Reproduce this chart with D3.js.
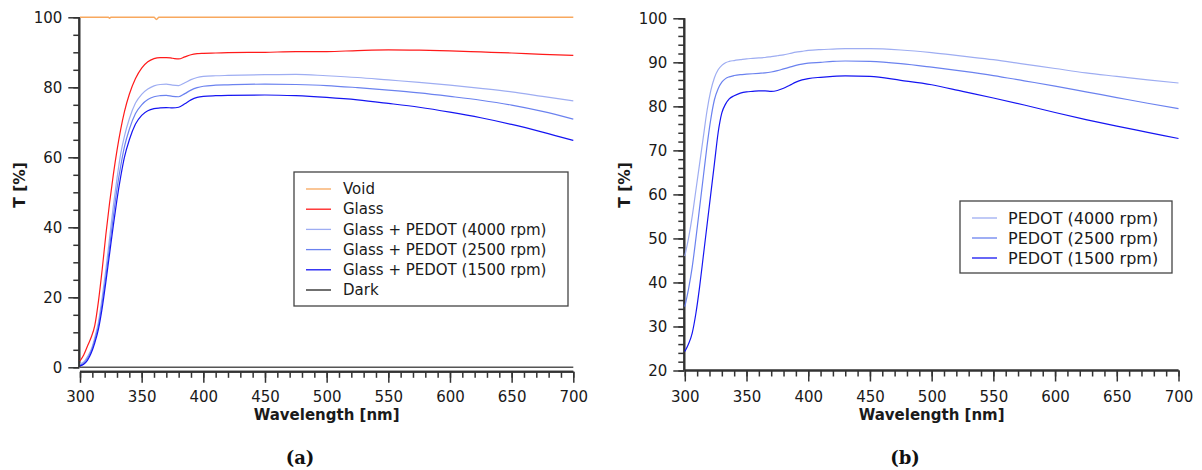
<!DOCTYPE html>
<html>
<head>
<meta charset="utf-8">
<script src="https://cdn.jsdelivr.net/npm/d3@7"></script>
<style>
  html, body { margin: 0; padding: 0; background: #fff; }
  svg { display: block; }
</style>
</head>
<body>
<svg id="chart" width="1202" height="470"></svg>
<script>
// ---------------- DATA ----------------
const wavelengthsA = [300,303,306,309,312,315,318,321,324,327,330,333,336,340,345,350,355,360,365,370,375,380,385,390,395,400,410,420,450,475,500,525,550,575,600,625,650,675,700];
const glassT   = [1.8,3.5,6,8.5,12,19,28,38,47,55,62,68,73,78,82.5,85.5,87.3,88.2,88.5,88.5,88.3,88.1,88.7,89.3,89.6,89.7,89.8,89.9,90.0,90.2,90.2,90.5,90.7,90.6,90.4,90.1,89.8,89.4,89.1];
const glassP4000T = [1.0,1.5,3,5,8.5,13,20,28,37,46,54,61,66,71,75.5,78,79.5,80.4,80.8,80.9,80.6,80.5,81.3,82.2,82.8,83.1,83.3,83.4,83.6,83.7,83.3,82.8,82.1,81.4,80.6,79.7,78.7,77.4,76.1];
const glassP2500T = [0.6,1.2,2.5,4.5,7.8,12,18.5,26,34.5,43,51,57.5,63,68,72.5,75,76.5,77.3,77.6,77.7,77.4,77.3,78.2,79.2,79.9,80.3,80.6,80.7,80.9,80.8,80.5,79.9,79.2,78.4,77.4,76.3,74.9,73.1,70.9];
const glassP1500T = [0.4,0.9,2,4,7,11,17,24.5,32.5,40.5,48,54.5,60,65,69.5,72,73.3,73.9,74.1,74.2,74.1,74.3,75.3,76.4,77.1,77.4,77.6,77.7,77.8,77.6,77.1,76.4,75.4,74.3,72.9,71.3,69.4,67.2,64.8];
const voidWl = [300,323,324,325,360,362,364,700];
const voidT  = [100,100,99.7,100,100,99.4,100,100];
const darkWl = [300,700];
const darkT  = [0,0];

const wavelengthsB = [300,303,306,309,312,315,318,321,324,327,330,333,336,340,345,350,355,360,365,370,375,380,385,390,395,400,410,420,430,450,475,500,525,550,575,600,625,650,675,700];
const pedot4000T = [46,50,55,61,67,73,79,83.5,86.5,88.3,89.3,89.9,90.2,90.4,90.6,90.8,90.9,91,91.1,91.3,91.5,91.7,92,92.3,92.5,92.7,92.9,93,93.1,93.1,92.8,92.2,91.4,90.6,89.6,88.6,87.6,86.8,86,85.3];
const pedot2500T = [34.5,38.5,43.5,50,57,64,71,77,81.5,84,85.5,86.3,86.7,87,87.2,87.3,87.4,87.5,87.6,87.8,88.1,88.5,88.9,89.3,89.6,89.8,90,90.2,90.3,90.2,89.7,88.9,88,87,85.8,84.6,83.3,82,80.7,79.5];
const pedot1500T = [24.3,26,28.5,33,39,46,53,60,67,74,78.5,80.5,81.7,82.4,83,83.3,83.4,83.5,83.5,83.4,83.6,84.1,84.8,85.5,86,86.3,86.6,86.8,86.9,86.8,85.9,84.9,83.4,81.9,80.3,78.6,77,75.5,74.1,72.7];

const legendA = ["Void","Glass","Glass + PEDOT (4000 rpm)","Glass + PEDOT (2500 rpm)","Glass + PEDOT (1500 rpm)","Dark"];
const legendB = ["PEDOT (4000 rpm)","PEDOT (2500 rpm)","PEDOT (1500 rpm)"];
const xTicks = [300,350,400,450,500,550,600,650,700];
const yTicksA = [0,20,40,60,80,100];
const yTicksB = [20,30,40,50,60,70,80,90,100];

// ---------------- STYLE ----------------
const C = { void:"#f8a85e", glass:"#ff1a1a", p4000:"#9eadf2", p2500:"#6b82ef", p1500:"#1515f2", dark:"#555555" };
const axisColor = "#333333";
const SANS = "'DejaVu Sans', 'Noto Sans', sans-serif";
const SERIF = "'DejaVu Serif', 'Liberation Serif', serif";

const svg = d3.select("#chart");

function styleText(sel, size, weight) {
  sel.style("font-family", SANS).style("font-size", size + "px")
     .style("font-weight", weight || "normal").style("fill", "#1a1a1a");
}

function drawAxes(g, x, y, opts) {
  // x axis
  const xa = g.append("g").attr("transform", `translate(0,${opts.xAxisY})`);
  xa.call(d3.axisBottom(x).tickValues(d3.range(300, 701, 10)).tickSize(6).tickFormat(""));
  xa.append("g").call(d3.axisBottom(x).tickValues(xTicks).tickSize(11).tickFormat(d3.format("d")));
  xa.selectAll(".domain").attr("stroke", axisColor).attr("stroke-width", 2)
    .attr("d", `M${x.range()[0]},0H${x.range()[1]}`);
  xa.selectAll(".tick line").attr("stroke", axisColor).attr("stroke-width", 1.5);
  styleText(xa.selectAll(".tick text").attr("y", 397 - opts.xAxisY).attr("dy", "0.35em"), 15);
  // y axis
  const ya = g.append("g").attr("transform", `translate(${opts.yAxisX},0)`);
  ya.call(d3.axisLeft(y).tickValues(d3.range(y.domain()[0], y.domain()[1] + 0.01, opts.minorStep)).tickSize(6).tickFormat(""));
  ya.append("g").call(d3.axisLeft(y).tickValues(opts.yTicks).tickSize(11).tickFormat(d3.format("d")));
  ya.selectAll(".domain").attr("stroke", axisColor).attr("stroke-width", 2)
    .attr("d", `M0,${y.range()[1]}V${y.range()[0]}`);
  ya.selectAll(".tick line").attr("stroke", axisColor).attr("stroke-width", 1.5);
  styleText(ya.selectAll(".tick text").attr("x", -17).attr("dy", "0.35em"), 15);

  styleText(g.append("text").attr("x", (x.range()[0] + x.range()[1]) / 2).attr("y", 415)
    .attr("text-anchor", "middle").attr("dy", "0.35em").text("Wavelength [nm]"), 15, "bold");
  styleText(g.append("text").attr("transform", `translate(${opts.yLabelX},185) rotate(-90)`)
    .attr("text-anchor", "middle").attr("dy", "0.35em").text("T [%]"), 15.5, "bold");
  g.append("text").attr("x", opts.captionX).attr("y", 458)
    .attr("text-anchor", "middle").attr("dy", "0.35em")
    .style("font-family", SERIF).style("font-weight", "bold").style("font-size", "18px")
    .style("fill", "#111").text(opts.caption);
}

function drawLine(g, x, y, wl, vals, color, w) {
  const data = wl.map((d, i) => [d, vals[i]]);
  g.append("path").datum(data)
    .attr("fill", "none").attr("stroke", color).attr("stroke-width", w || 1.2)
    .attr("stroke-linejoin", "round")
    .attr("d", d3.line().curve(d3.curveMonotoneX).x(d => x(d[0])).y(d => y(d[1])));
}

function drawLegend(g, box, labels, colors) {
  g.append("rect").attr("x", box.x).attr("y", box.y).attr("width", box.w).attr("height", box.h)
    .attr("fill", "#fff").attr("stroke", "#444").attr("stroke-width", 1.3);
  labels.forEach((lab, i) => {
    const cy = box.firstY + i * box.step;
    g.append("line").attr("x1", box.lx1).attr("x2", box.lx2).attr("y1", cy).attr("y2", cy)
      .attr("stroke", colors[i]).attr("stroke-width", 1.3);
    styleText(g.append("text").attr("x", box.tx).attr("y", cy).attr("dy", "0.35em").text(lab), box.fs);
  });
}

// ---------------- PANEL A ----------------
const gA = svg.append("g");
const xA = d3.scaleLinear().domain([300, 700]).range([80, 573.3]);
const yA = d3.scaleLinear().domain([0, 100]).range([367.3, 17.3]);
drawAxes(gA, xA, yA, { xAxisY: 371.8, yAxisX: 79.3, yTicks: yTicksA, minorStep: 5, yLabelX: 20, caption: "(a)", captionX: 300 });
drawLine(gA, xA, yA, darkWl, darkT, C.dark, 1.5);
drawLine(gA, xA, yA, voidWl, voidT, C.void, 1.5);
drawLine(gA, xA, yA, wavelengthsA, glassT, C.glass);
drawLine(gA, xA, yA, wavelengthsA, glassP4000T, C.p4000);
drawLine(gA, xA, yA, wavelengthsA, glassP2500T, C.p2500);
drawLine(gA, xA, yA, wavelengthsA, glassP1500T, C.p1500);
drawLegend(gA, { x: 294, y: 172, w: 274, h: 134, firstY: 189, step: 20.2, lx1: 306, lx2: 331, tx: 343, fs: 15 },
  legendA, [C.void, C.glass, C.p4000, C.p2500, C.p1500, "#222"]);

// ---------------- PANEL B ----------------
const gB = svg.append("g");
const xB = d3.scaleLinear().domain([300, 700]).range([684.8, 1178.5]);
const yB = d3.scaleLinear().domain([20, 100]).range([370.5, 18.3]);
drawAxes(gB, xB, yB, { xAxisY: 370.5, yAxisX: 684.3, yTicks: yTicksB, minorStep: 2, yLabelX: 625, caption: "(b)", captionX: 905 });
drawLine(gB, xB, yB, wavelengthsB, pedot4000T, C.p4000);
drawLine(gB, xB, yB, wavelengthsB, pedot2500T, C.p2500);
drawLine(gB, xB, yB, wavelengthsB, pedot1500T, C.p1500);
drawLegend(gB, { x: 960, y: 201, w: 212, h: 72, firstY: 218, step: 20, lx1: 972, lx2: 997, tx: 1008, fs: 16 },
  legendB, [C.p4000, C.p2500, C.p1500]);
</script>
</body>
</html>
